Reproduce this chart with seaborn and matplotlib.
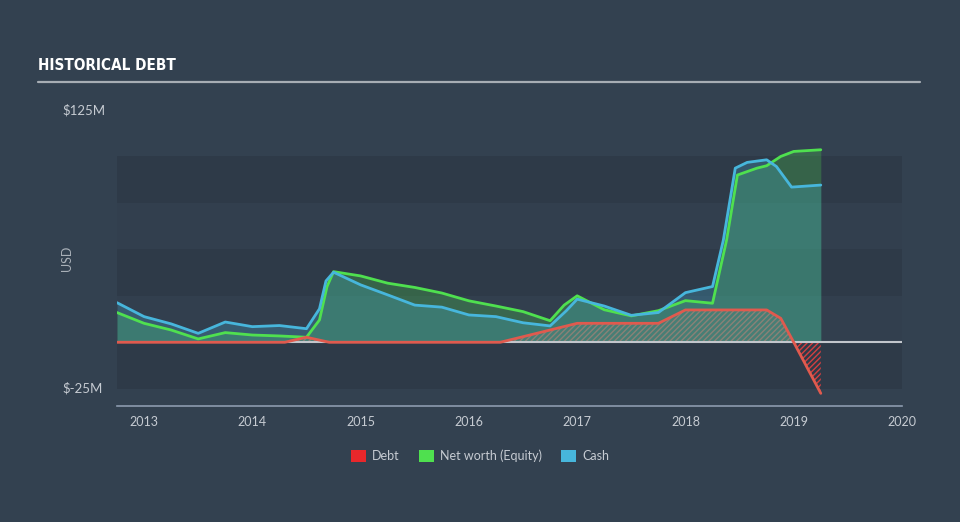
import numpy as np
import pandas as pd
import matplotlib
matplotlib.use("Agg")
import matplotlib.pyplot as plt
import matplotlib.transforms as mtransforms
from matplotlib.patches import Patch
from matplotlib.lines import Line2D
import seaborn as sns

# ---------------- data (USD millions) ----------------
cash_dates = [2012.75, 2013.0, 2013.25, 2013.5, 2013.75, 2014.0, 2014.25, 2014.5,
              2014.62, 2014.68, 2014.75, 2015.0, 2015.25, 2015.5, 2015.75, 2016.0,
              2016.25, 2016.5, 2016.75, 2016.9, 2017.0, 2017.25, 2017.5, 2017.75,
              2018.0, 2018.25, 2018.35, 2018.46, 2018.57, 2018.75, 2018.84,
              2018.98, 2019.25]
cash = [21.3, 13.8, 9.9, 4.8, 10.9, 8.4, 9.0, 7.3,
        18.0, 33.0, 37.7, 30.9, 25.5, 20.0, 18.9, 14.7,
        13.8, 10.5, 8.8, 17.0, 23.2, 19.5, 14.5, 16.0,
        26.7, 30.0, 55.0, 93.7, 96.8, 98.2, 94.6,
        83.5, 84.6]

equity_dates = [2012.75, 2013.0, 2013.25, 2013.5, 2013.75, 2014.0, 2014.25, 2014.5,
                2014.62, 2014.69, 2014.75, 2015.0, 2015.25, 2015.5, 2015.75, 2016.0,
                2016.25, 2016.5, 2016.75, 2016.88, 2017.0, 2017.25, 2017.5, 2017.75,
                2018.0, 2018.25, 2018.38, 2018.48, 2018.66, 2018.75, 2018.88,
                2019.0, 2019.25]
equity = [16.0, 10.2, 6.6, 1.8, 5.2, 3.9, 3.4, 2.7,
          12.0, 30.0, 38.0, 35.7, 31.8, 29.5, 26.5, 22.3,
          19.5, 16.5, 11.6, 20.0, 25.0, 17.5, 14.2, 17.0,
          22.4, 21.0, 55.0, 90.0, 93.7, 95.0, 100.0,
          102.7, 103.6]

debt_dates = [2012.75, 2013.0, 2013.25, 2013.5, 2013.75, 2014.0, 2014.3, 2014.5,
              2014.71, 2015.0, 2015.25, 2015.5, 2015.75, 2016.0, 2016.29, 2016.5,
              2016.75, 2017.0, 2017.25, 2017.5, 2017.75, 2018.0, 2018.25, 2018.5,
              2018.75, 2018.88, 2019.0, 2019.25]
debt = [0.0, 0.0, 0.0, 0.0, 0.0, 0.0, 0.0, 2.7,
        0.0, 0.0, 0.0, 0.0, 0.0, 0.0, 0.0, 3.0,
        6.6, 10.2, 10.2, 10.2, 10.2, 17.4, 17.4, 17.4,
        17.4, 12.9, 0.0, -27.5]

series_names = ["Debt", "Net worth (Equity)", "Cash"]
x_ticks = [2013, 2014, 2015, 2016, 2017, 2018, 2019, 2020]
y_label_values = [125, -25]
y_label_texts = ["$125M", "$-25M"]
band_edges = [-25, 0, 25, 50, 75, 100]

# ---------------- style ----------------
BG = "#334150"
BAND_DARK = "#2e3a48"
BAND_LIGHT = "#323f4e"
RED = "#e8272b"
RED_LINE = "#e05a4e"
GREEN = "#4fe04f"
BLUE = "#47b6dc"
TXT = "#c6cbd2"
AXIS = "#8c9bae"

sns.set_style("dark", rc={"axes.facecolor": BG, "figure.facecolor": BG})
plt.rcParams["font.family"] = ["Lato", "DejaVu Sans"]
plt.rcParams["hatch.linewidth"] = 1.0

fig = plt.figure(figsize=(9.6, 5.22), dpi=100, facecolor=BG)
W, H = 960, 522
ax = fig.add_axes([117 / W, (H - 406) / H, 785 / W, (406 - 110) / H])
ax.set_facecolor(BG)
ax.set_xlim(2012.75, 2020)
ax.set_ylim(-34.3, 125)

# bands
for i in range(len(band_edges) - 1):
    c = BAND_DARK if i % 2 == 0 else BAND_LIGHT
    ax.axhspan(band_edges[i], band_edges[i + 1], color=c, lw=0, zorder=0)

cd, cs = np.array(cash_dates), np.array(cash)
ed, eq = np.array(equity_dates), np.array(equity)
dd, db = np.array(debt_dates), np.array(debt)

# area fills
ax.fill_between(ed, 0, eq, color=GREEN, alpha=0.25, lw=0, zorder=1)
ax.fill_between(cd, 0, cs, color=BLUE, alpha=0.25, lw=0, zorder=1)

# debt hatch
ax.fill_between(dd, 0, db, where=db >= 0, interpolate=True,
                facecolor=(0.85, 0.75, 0.7, 0.07), edgecolor=(0.80, 0.52, 0.47, 0.5),
                hatch="//////", lw=0, zorder=2)
ax.fill_between(dd, 0, db, where=db <= 0, interpolate=True,
                facecolor="none", edgecolor=(0.90, 0.25, 0.25, 0.9),
                hatch="//////", lw=0, zorder=2)

ax.axhline(0, color="#c2c6cc", lw=1.5, zorder=3)

df = pd.DataFrame({
    "date": equity_dates + cash_dates + debt_dates,
    "value": equity + cash + debt,
    "series": [series_names[1]] * len(equity_dates) + [series_names[2]] * len(cash_dates)
              + [series_names[0]] * len(debt_dates),
})
sns.lineplot(data=df, x="date", y="value", hue="series",
             palette={series_names[0]: RED_LINE, series_names[1]: GREEN,
                      series_names[2]: BLUE},
             hue_order=[series_names[1], series_names[2], series_names[0]],
             linewidth=2, legend=False, ax=ax, zorder=4, estimator=None)
for ln in ax.lines:
    ln.set_solid_joinstyle("round")
    ln.set_solid_capstyle("round")

# axes styling
for s in ["top", "right", "left"]:
    ax.spines[s].set_visible(False)
ax.spines["bottom"].set_color(AXIS)
ax.spines["bottom"].set_linewidth(1.2)
ax.set_xticks(x_ticks)
ax.set_xticklabels([str(x) for x in x_ticks])
ax.tick_params(axis="x", direction="out", length=6.5, width=1, color=AXIS,
               labelcolor=TXT, labelsize=9, pad=1)
ax.set_yticks([])
ax.set_xlabel("")
ax.set_ylabel("")
ax.grid(False)

# y labels
tr = mtransforms.blended_transform_factory(fig.transFigure, ax.transData)
for v, t in zip(y_label_values, y_label_texts):
    ax.text(62 / W, v, t, transform=tr, ha="left", va="center", color=TXT,
            fontsize=9.5, clip_on=False)
fig.text(67 / W, (H - 258) / H, "USD", rotation=90, ha="center", va="center",
         color="#a9b0b8", fontsize=9)

# title + underline
fig.text(38 / W, (H - 66) / H, "HISTORICAL DEBT", ha="left", va="center",
         color="white", fontsize=11, fontweight="bold", fontstretch="condensed",
         family=["DejaVu Sans"])
fig.add_artist(Line2D([38 / W, 920 / W], [(H - 82) / H, (H - 82) / H],
                      transform=fig.transFigure, color="#a7adb4", lw=1.6))

# legend
handles = [Patch(facecolor=RED, edgecolor="none"),
           Patch(facecolor=GREEN, edgecolor="none"),
           Patch(facecolor=BLUE, edgecolor="none")]
leg = fig.legend(handles, series_names, loc="center", bbox_to_anchor=(0.5, (H - 456) / H),
                 ncol=3, frameon=False, fontsize=9, handlelength=1.2, handleheight=1.0,
                 handletextpad=0.5, columnspacing=1.5)
for t in leg.get_texts():
    t.set_color(TXT)

fig.savefig("out.png", dpi=100, facecolor=BG)
